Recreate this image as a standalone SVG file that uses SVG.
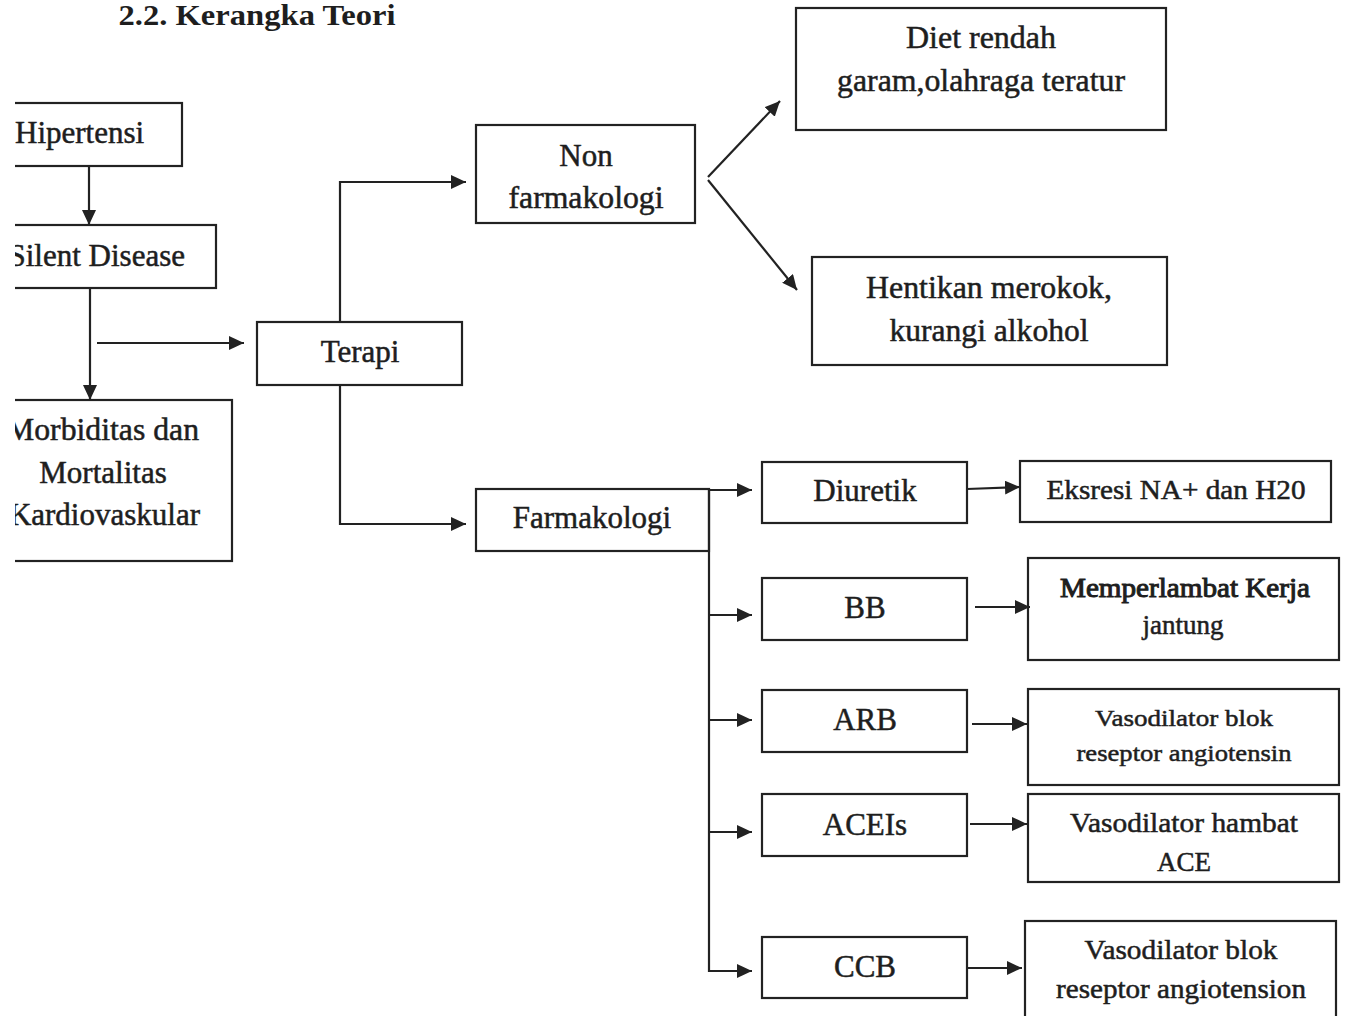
<svg xmlns="http://www.w3.org/2000/svg" width="1348" height="1016" viewBox="0 0 1348 1016">
<style>
.box{fill:#fff;stroke:#222;stroke-width:2.2}
.t{font-family:"Liberation Serif","Times New Roman",serif;font-size:31px;fill:#1e1e1e;stroke:#1e1e1e;stroke-width:0.5;text-anchor:middle}
.s{font-size:27px}
.xs{font-size:24px}
.b{font-weight:bold;stroke-width:0}
.m{stroke-width:1}
.c{fill:none;stroke:#222;stroke-width:2.2}
</style>
<defs>
<marker id="ah" markerUnits="userSpaceOnUse" markerWidth="16" markerHeight="14" refX="15" refY="7" orient="auto">
<path d="M0,0 L15,7 L0,14 z" fill="#222"/>
</marker>
<clipPath id="clipL"><rect x="15" y="0" width="1333" height="1016"/></clipPath>
</defs>
<rect width="1348" height="1016" fill="#fff"/>
<text class="t b" x="257" y="25" style="font-size:30px" textLength="277" lengthAdjust="spacingAndGlyphs">2.2. Kerangka Teori</text>

<g clip-path="url(#clipL)">
<g id="hipertensi"><rect class="box" x="5" y="103" width="177" height="63"/><text class="t" x="15" y="143" style="text-anchor:start">Hipertensi</text></g>
<g id="silent"><rect class="box" x="5" y="225" width="211" height="63"/><text class="t" x="185" y="266" style="text-anchor:end">Silent Disease</text></g>
<g id="morbiditas"><rect class="box" x="5" y="400" width="227" height="161"/>
<text class="t" x="199" y="440" style="text-anchor:end" textLength="193" lengthAdjust="spacingAndGlyphs">Morbiditas dan</text>
<text class="t" x="103" y="483">Mortalitas</text>
<text class="t" x="200" y="525" style="text-anchor:end">Kardiovaskular</text></g>
</g>

<g id="terapi"><rect class="box" x="257" y="322" width="205" height="63"/><text class="t" x="360" y="362">Terapi</text></g>
<g id="nonfarmakologi"><rect class="box" x="476" y="125" width="219" height="98"/><text class="t" x="586" y="166">Non</text><text class="t" x="586" y="208" textLength="155" lengthAdjust="spacingAndGlyphs">farmakologi</text></g>
<g id="diet"><rect class="box" x="796" y="8" width="370" height="122"/><text class="t" x="981" y="48" textLength="150" lengthAdjust="spacingAndGlyphs">Diet rendah</text><text class="t" x="981" y="91" textLength="288" lengthAdjust="spacingAndGlyphs">garam,olahraga teratur</text></g>
<g id="hentikan"><rect class="box" x="812" y="257" width="355" height="108"/><text class="t" x="989" y="298" textLength="246" lengthAdjust="spacingAndGlyphs">Hentikan merokok,</text><text class="t" x="989" y="341" textLength="199" lengthAdjust="spacingAndGlyphs">kurangi alkohol</text></g>
<g id="farmakologi"><rect class="box" x="476" y="489" width="233" height="62"/><text class="t" x="592" y="528">Farmakologi</text></g>

<g id="diuretik"><rect class="box" x="762" y="462" width="205" height="61"/><text class="t" x="865" y="501">Diuretik</text></g>
<g id="bb"><rect class="box" x="762" y="578" width="205" height="62"/><text class="t" x="865" y="618">BB</text></g>
<g id="arb"><rect class="box" x="762" y="690" width="205" height="62"/><text class="t" x="865" y="730">ARB</text></g>
<g id="aceis"><rect class="box" x="762" y="794" width="205" height="62"/><text class="t" x="865" y="835">ACEIs</text></g>
<g id="ccb"><rect class="box" x="762" y="937" width="205" height="61"/><text class="t" x="865" y="977">CCB</text></g>

<g id="eksresi"><rect class="box" x="1020" y="461" width="311" height="61"/><text class="t s" x="1176" y="499" textLength="259" lengthAdjust="spacingAndGlyphs">Eksresi NA+ dan H20</text></g>
<g id="memperlambat"><rect class="box" x="1028" y="558" width="311" height="102"/><text class="t s m" x="1185" y="597" textLength="250" lengthAdjust="spacingAndGlyphs">Memperlambat Kerja</text><text class="t s" x="1183" y="634">jantung</text></g>
<g id="vaso-arb"><rect class="box" x="1028" y="689" width="311" height="96"/><text class="t xs" x="1184" y="726" textLength="178" lengthAdjust="spacingAndGlyphs">Vasodilator blok</text><text class="t xs" x="1184" y="761" textLength="215" lengthAdjust="spacingAndGlyphs">reseptor angiotensin</text></g>
<g id="vaso-ace"><rect class="box" x="1028" y="794" width="311" height="88"/><text class="t s" x="1184" y="832" textLength="228" lengthAdjust="spacingAndGlyphs">Vasodilator hambat</text><text class="t s" x="1184" y="871">ACE</text></g>
<g id="vaso-ccb"><rect class="box" x="1025" y="921" width="311" height="110"/><text class="t s" x="1181" y="959" textLength="193" lengthAdjust="spacingAndGlyphs">Vasodilator blok</text><text class="t s" x="1181" y="998" textLength="250" lengthAdjust="spacingAndGlyphs">reseptor angiotension</text></g>

<g id="connectors">
<path class="c" d="M89,166 V225" marker-end="url(#ah)"/>
<path class="c" d="M90,288 V400" marker-end="url(#ah)"/>
<path class="c" d="M97,343 H244" marker-end="url(#ah)"/>
<path class="c" d="M340,322 V182 H466" marker-end="url(#ah)"/>
<path class="c" d="M340,385 V524 H466" marker-end="url(#ah)"/>
<path class="c" d="M708,177 L780,101" marker-end="url(#ah)"/>
<path class="c" d="M708,180 L797,290" marker-end="url(#ah)"/>
<path class="c" d="M709,489 V972"/>
<path class="c" d="M709,490 H752" marker-end="url(#ah)"/>
<path class="c" d="M709,615 H752" marker-end="url(#ah)"/>
<path class="c" d="M709,720 H752" marker-end="url(#ah)"/>
<path class="c" d="M709,832 H752" marker-end="url(#ah)"/>
<path class="c" d="M709,971 H752" marker-end="url(#ah)"/>
<path class="c" d="M967,489 L1020,487" marker-end="url(#ah)"/>
<path class="c" d="M975,607 H1030" marker-end="url(#ah)"/>
<path class="c" d="M972,724 H1027" marker-end="url(#ah)"/>
<path class="c" d="M970,824 H1027" marker-end="url(#ah)"/>
<path class="c" d="M968,968 H1022" marker-end="url(#ah)"/>
</g>
</svg>
